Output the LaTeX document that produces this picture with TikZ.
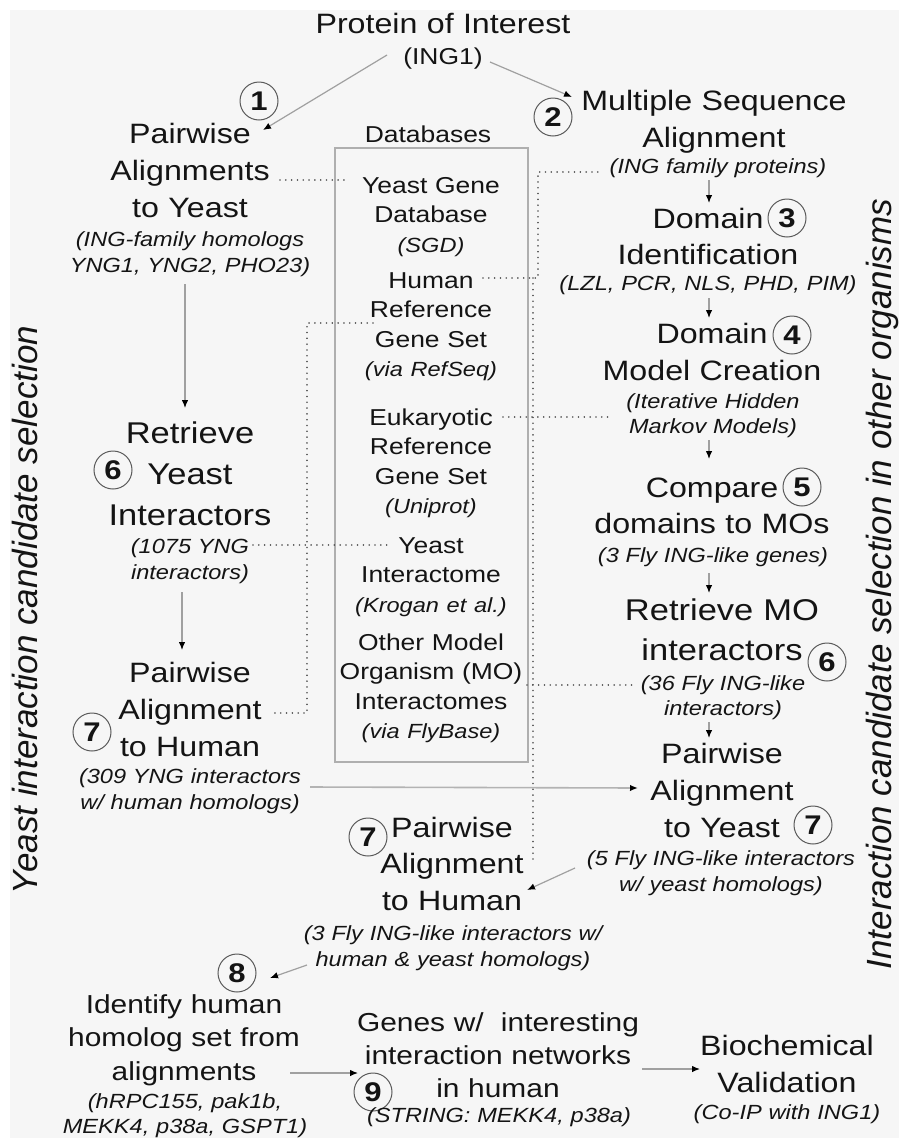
\documentclass[tikz,border=0pt]{standalone}
\usepackage{fontspec}
\setmainfont{Liberation Sans}[FakeStretch=1.15]
\newfontfamily\sidefont{Liberation Sans}
\usetikzlibrary{arrows.meta}
\definecolor{colText}{RGB}{20,20,20}
\definecolor{colArrow}{RGB}{160,160,160}
\definecolor{colDots}{RGB}{85,85,85}
\definecolor{colFrame}{RGB}{175,175,175}
\definecolor{colRing}{RGB}{90,90,90}
\definecolor{colBack}{RGB}{246,246,246}
\newcommand\dbnote[1]{{\fontsize{20.5}{29.5}\selectfont\itshape #1}}

\begin{document}
\begin{tikzpicture}[x=1pt, y=1pt,
    txt/.style={align=center, text width=330pt, inner sep=0pt, anchor=base,
      text=colText},
    big/.style={txt, font=\fontsize{28}{37}\selectfont},
    bigger/.style={txt, font=\fontsize{30}{41}\selectfont},
    btm/.style={txt, font=\fontsize{26}{33.5}\selectfont},
    note/.style={txt, font=\fontsize{20.5}{26.5}\selectfont\itshape},
    dbtxt/.style={txt, font=\fontsize{23}{29.5}\selectfont},
    side/.style={inner sep=0pt, anchor=base, rotate=90, text=colText,
      font=\sidefont\fontsize{35}{40}\selectfont\itshape},
    num/.style={circle, draw=colRing, line width=1pt, minimum size=38pt,
      inner sep=0pt, text=colText, font=\fontsize{27}{27}\selectfont\bfseries},
    fl/.style={-{Latex[length=8pt, width=6.5pt, color=black]}, colArrow,
      line width=1.2pt},
    dots/.style={colDots, line width=1.7pt, line cap=round,
      dash pattern=on 0.01pt off 5.8pt},
    dbbox/.style={rectangle, draw=colFrame, line width=1.4pt, inner sep=0pt}]
    \useasboundingbox (0,0) rectangle (899,-1138);
    \fill[white] (0,0) rectangle (899,-1138);
    \fill[colBack] (10,-10) rectangle (899,-1138);
    % top
    \node[big] (poi) at (443,-33) {Protein of Interest};
    \node[txt, font=\fontsize{23}{28}\selectfont] (poi-id) at (443,-64) {(ING1)};
    % yeast column
    \node[num] (n1) at (259,-101) {1};
    \node[big] (pwy) at (190,-143) {Pairwise\\Alignments\\to Yeast};
    \node[note] (pwy-note) at (190,-246)
      {(ING-family homologs\\YNG1, YNG2, PHO23)};
    \node[bigger] (ryi) at (190,-443) {Retrieve\\Yeast\\Interactors};
    \node[num] (n6a) at (113,-470) {6};
    \node[note] (ryi-note) at (190,-553) {(1075 YNG\\interactors)};
    \node[big] (pah) at (190,-682) {Pairwise\\Alignment\\to Human};
    \node[num] (n7a) at (92,-732) {7};
    \node[note] (pah-note) at (190,-783)
      {(309 YNG interactors\\w/ human homologs)};
    % databases
    \node[dbtxt] (dbl) at (428,-142) {Databases};
    \node[dbbox, minimum width=193pt, minimum height=614pt] (db)
      at (431.5,-455) {};
    \node[dbtxt] (sgd) at (431,-193) {Yeast Gene\\Database\\\dbnote{(SGD)}};
    \node[dbtxt] (hrgs) at (431,-288)
      {Human\\Reference\\Gene Set\\\dbnote{(via RefSeq)}};
    \node[dbtxt] (erg) at (431,-425)
      {Eukaryotic\\Reference\\Gene Set\\\dbnote{(Uniprot)}};
    \node[dbtxt] (yint) at (431,-553)
      {Yeast\\Interactome\\\dbnote{(Krogan et al.)}};
    \node[dbtxt] (moint) at (431,-650)
      {Other Model\\Organism (MO)\\Interactomes\\\dbnote{(via FlyBase)}};
    % other organisms column
    \node[num] (n2) at (553,-117) {2};
    \node[big] (msa) at (714,-110) {Multiple Sequence\\Alignment};
    \node[note] (msa-note) at (718,-173) {(ING family proteins)};
    \node[txt, font=\fontsize{28}{36}\selectfont] (did) at (708,-228)
      {Domain\\Identification};
    \node[num] (n3) at (787,-218) {3};
    \node[note] (did-note) at (708,-290) {(LZL, PCR, NLS, PHD, PIM)};
    \node[big] (dmc) at (712,-343) {Domain\\Model Creation};
    \node[num] (n4) at (792,-335) {4};
    \node[note, font=\fontsize{20.5}{25}\selectfont\itshape] (dmc-note)
      at (713,-408) {(Iterative Hidden\\Markov Models)};
    \node[txt, font=\fontsize{28}{36}\selectfont] (cmp) at (712,-497)
      {Compare\\domains to MOs};
    \node[num] (n5) at (802,-487) {5};
    \node[note] (cmp-note) at (713,-562) {(3 Fly ING-like genes)};
    \node[txt, font=\fontsize{30}{40}\selectfont] (rmo) at (722,-620)
      {Retrieve MO\\interactors};
    \node[num] (n6b) at (827,-662) {6};
    \node[note, font=\fontsize{20.5}{25}\selectfont\itshape] (rmo-note)
      at (723,-690) {(36 Fly ING-like\\interactors)};
    \node[big] (pay) at (722,-763) {Pairwise\\Alignment\\to Yeast};
    \node[num] (n7b) at (813,-825) {7};
    \node[note] (pay-note) at (721,-865)
      {(5 Fly ING-like interactors\\w/ yeast homologs)};
    % middle, bottom
    \node[num] (n7c) at (368,-837) {7};
    \node[txt, font=\fontsize{28}{36.5}\selectfont] (pah2) at (452,-837)
      {Pairwise\\Alignment\\to Human};
    \node[note] (pah2-note) at (453,-940)
      {(3 Fly ING-like interactors w/\\human \& yeast homologs)};
    \node[num] (n8) at (237,-973) {8};
    \node[btm] (ihs) at (184,-1013)
      {Identify human\\homolog set from\\alignments};
    \node[note, font=\fontsize{20.5}{25}\selectfont\itshape] (ihs-note)
      at (185,-1108) {(hRPC155, pak1b,\\MEKK4, p38a, GSPT1)};
    \node[txt, font=\fontsize{26}{33}\selectfont] (gin) at (498,-1031)
      {Genes w/\ \ interesting\\interaction networks\\in human};
    \node[num] (n9) at (373,-1092) {9};
    \node[note] (gin-note) at (499,-1122) {(STRING: MEKK4, p38a)};
    \node[big] (bcv) at (787,-1055) {Biochemical\\Validation};
    \node[note] (bcv-note) at (787,-1119) {(Co-IP with ING1)};
    % side titles
    \node[side] (lside) at (37,-610) {Yeast interaction candidate selection};
    \node[side] (rside) at (891,-584)
      {Interaction candidate selection in other organisms};
    % arrows
    \draw[fl] ([shift={(-56,9)}]poi-id.base) -- ([shift={(73,13)}]pwy.base);
    \draw[fl] ([shift={(47,2)}]poi-id.base) -- ([shift={(-142,13)}]msa.base);
    \draw[fl] ([shift={(-5,-38)}]pwy-note.base) -- ([shift={(-5,35)}]ryi.base);
    \draw[fl] ([shift={(-8,-39)}]ryi-note.base) -- ([shift={(-8,32)}]pah.base);
    \draw[fl, line width=1.6pt, colArrow!80]
      ([shift={(120,-4)}]pah-note.base) -- ([shift={(-84,-25)}]pay.base);
    \draw[fl] ([shift={(-9,-7)}]msa-note.base) -- ([shift={(1,25)}]did.base);
    \draw[fl] ([shift={(1,-8)}]did-note.base) -- ([shift={(-3,25)}]dmc.base);
    \draw[fl] ([shift={(-4,-32)}]dmc-note.base) -- ([shift={(-3,38)}]cmp.base);
    \draw[fl] ([shift={(-4,-11)}]cmp-note.base) -- ([shift={(-13,27)}]rmo.base);
    \draw[fl] ([shift={(-14,-32)}]rmo-note.base) -- ([shift={(-13,25)}]pay.base);
    \draw[fl] ([shift={(-146,-3)}]pay-note.base) -- ([shift={(75,-53)}]pah2.base);
    \draw[fl] ([shift={(-146,-25)}]pah2-note.base) -- ([shift={(86,35)}]ihs.base);
    \draw[fl] ([shift={(106,-60)}]ihs.base) -- ([shift={(-140,-42)}]gin.base);
    \draw[fl] ([shift={(144,-38)}]gin.base) -- ([shift={(-87,-14)}]bcv.base);
    % dotted links to the databases
    \draw[dots] ([shift={(90,-37)}]pwy.base) -- ([shift={(-86,13)}]sgd.base);
    \draw[dots] ([shift={(52,10)}]hrgs.base) -- ++(55,0)
      |- ([shift={(-116,1)}]msa-note.base);
    \draw[dots] ([shift={(-58,-35)}]hrgs.base) -- ++(-66,0)
      |- ([shift={(80,-31)}]pah.base);
    \draw[dots] ([shift={(102,10)}]hrgs.base) -- ([shift={(81,-25)}]pah2.base);
    \draw[dots] ([shift={(72,8)}]erg.base) -- ([shift={(-100,-9)}]dmc-note.base);
    \draw[dots] ([shift={(63,8)}]ryi-note.base) -- ([shift={(-43,8)}]yint.base);
    \draw[dots] ([shift={(96,-35)}]moint.base) -- ([shift={(-86,5)}]rmo-note.base);
\end{tikzpicture}
\end{document}
